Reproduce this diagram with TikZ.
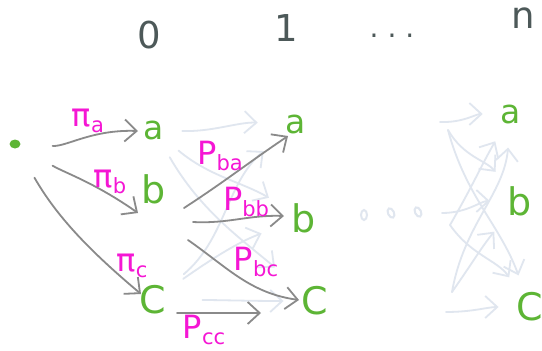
\documentclass[tikz,border=0pt]{standalone}
\usepackage{fontspec}
\setmainfont{DejaVu Sans}
\setsansfont{DejaVu Sans}
\usetikzlibrary{arrows.meta,shapes.geometric}
\definecolor{leaf}{HTML}{5DB535}
\definecolor{pink}{HTML}{F516D4}
\definecolor{pencil}{HTML}{8A8A8A}
\definecolor{ghost}{HTML}{E0E6EF}
\definecolor{slate}{HTML}{4D5959}
\newcommand{\sub}[1]{\raisebox{-6pt}{\fontsize{21}{21}\selectfont #1}}
\tikzset{
  state/.style={text=leaf, inner sep=2pt, font=\fontsize{33}{33}\selectfont},
  tall/.style={font=\fontsize{38}{38}\selectfont},
  head/.style={text=slate, inner sep=0pt, font=\fontsize{37}{37}\selectfont},
  prob/.style={text=pink, inner sep=1pt, font=\fontsize{32}{32}\selectfont},
  barb/.style={-{Straight Barb[length=12pt,width=22pt,line width=1.8pt]}},
  solid edge/.style={draw=pencil, line width=1.8pt, line cap=round, barb},
  faint edge/.style={draw=ghost, line width=1.8pt, line cap=round, barb},
  faintdot/.style={draw=ghost, line width=2pt, ellipse, minimum width=6pt, minimum height=10pt, inner sep=0pt},
}
\begin{document}
\begin{tikzpicture}[x=1pt,y=-1pt]
\useasboundingbox (0,0) rectangle (542,351);
\fill[white] (0,0) rectangle (542,351);

% column headings
\node[head] (h0) at (149,35) {0};
\node[head] (h1) at (286,28) {1};
\node[text=slate, inner sep=0pt, font=\fontsize{28}{28}\selectfont] (hd) at (392,36) {.\hspace{9pt}.\hspace{9pt}.};
\node[head] (hn) at (523,18) {n};

% start point
\node[fill=leaf, ellipse, minimum width=11pt, minimum height=9pt, inner sep=0pt] (s) at (15,144) {};

% states of step 0, step 1 and step n
\node[state] (a0) at (154,130) {a};
\node[state, tall] (b0) at (154,189) {b};
\node[state, tall] (c0) at (153,300) {C};
\node[state] (a1) at (296,124) {a};
\node[state, tall] (b1) at (304,218) {b};
\node[state, tall] (c1) at (315,301) {C};
\node[state] (an) at (511,114) {a};
\node[state, tall] (bn) at (520,201) {b};
\node[state, tall] (cn) at (530,307) {C};

% dots between step 1 and step n
\node[faintdot] (d1) at (364,215) {};
\node[faintdot, rotate=25] (d2) at (391,213) {};
\node[faintdot, rotate=25] (d3) at (418,212) {};

% faint transitions from step 0 to step 1
\draw[faint edge, shorten <=16pt, shorten >=26pt] (a0) to[out=-2,in=178] (a1);
\draw[faint edge, shorten <=16pt, shorten >=24pt] (a0) to[out=-40,in=150] (b1);
\draw[faint edge, shorten <=18pt, shorten >=32pt] (a0) to[out=-60,in=140] (c1);
\draw[faint edge, shorten <=20pt, shorten >=26pt] (c0) to[out=40,in=-140] (a1);
\draw[faint edge, shorten <=18pt, shorten >=30pt] (c0) to[out=35,in=-160] (b1);
\draw[faint edge, shorten <=34pt, shorten >=16pt] (c0) to[out=0,in=180] (c1);

% faint transitions into step n
\coordinate (na) at (440,122);
\coordinate (nb) at (442,213);
\coordinate (nc) at (446,312);
\coordinate (na2) at (448,130);
\coordinate (nb2) at (450,225);
\coordinate (nc2) at (452,292);
\draw[faint edge, shorten >=16pt] (na) to[out=-2,in=180] (an);
\draw[faint edge, shorten >=16pt] (na2) to[out=-60,in=130] (bn);
\draw[faint edge, shorten >=16pt] (na2) to[out=-75,in=110] (cn);
\draw[faint edge, shorten >=18pt] (nb2) to[out=60,in=-120] (an);
\draw[faint edge, shorten >=16pt] (nb) to[out=0,in=180] (bn);
\draw[faint edge, shorten >=16pt] (nb2) to[out=-55,in=125] (cn);
\draw[faint edge, shorten >=22pt] (nc2) to[out=80,in=-95] (an);
\draw[faint edge, shorten >=18pt] (nc2) to[out=55,in=-130] (bn);
\draw[faint edge, shorten >=16pt] (nc) to[out=0,in=180] (cn);

% initial probabilities
\draw[solid edge, shorten <=32pt] (s) to[out=-3,in=178] ([xshift=-16pt,yshift=-1pt]a0.center);
\draw[solid edge, shorten <=38pt] (s) to[out=-30,in=145] ([xshift=-16pt,yshift=-24pt]b0.center);
\draw[solid edge, shorten <=34pt] (s) to[out=-60,in=140] ([xshift=-12pt,yshift=6pt]c0.center);
\node[prob] (pa) at (88,121) {π\sub{a}};
\node[prob] (pb) at (110,182) {π\sub{b}};
\node[prob] (pc) at (132,266) {π\sub{c}};

% transitions out of b and from c to c
\draw[solid edge] ([xshift=30pt,yshift=-19pt]b0.center) to[out=33,in=-146] ([xshift=-8pt,yshift=-12pt]a1.center);
\draw[solid edge] ([xshift=39pt,yshift=-33pt]b0.center) to[out=-3,in=178] ([xshift=-20pt,yshift=2pt]b1.center);
\draw[solid edge] ([xshift=34pt,yshift=-51pt]b0.center) to[out=-35,in=172] ([xshift=-16pt,yshift=1pt]c1.center);
\draw[solid edge] ([xshift=24pt,yshift=-13pt]c0.center) to[out=0,in=180] ([xshift=-54pt,yshift=-12pt]c1.center);
\node[prob] (pba) at (220,156) {P\sub{ba}};
\node[prob] (pbb) at (246,202) {P\sub{bb}};
\node[prob] (pbc) at (256,262) {P\sub{bc}};
\node[prob] (pcc) at (204,330) {P\sub{cc}};
\end{tikzpicture}
\end{document}
